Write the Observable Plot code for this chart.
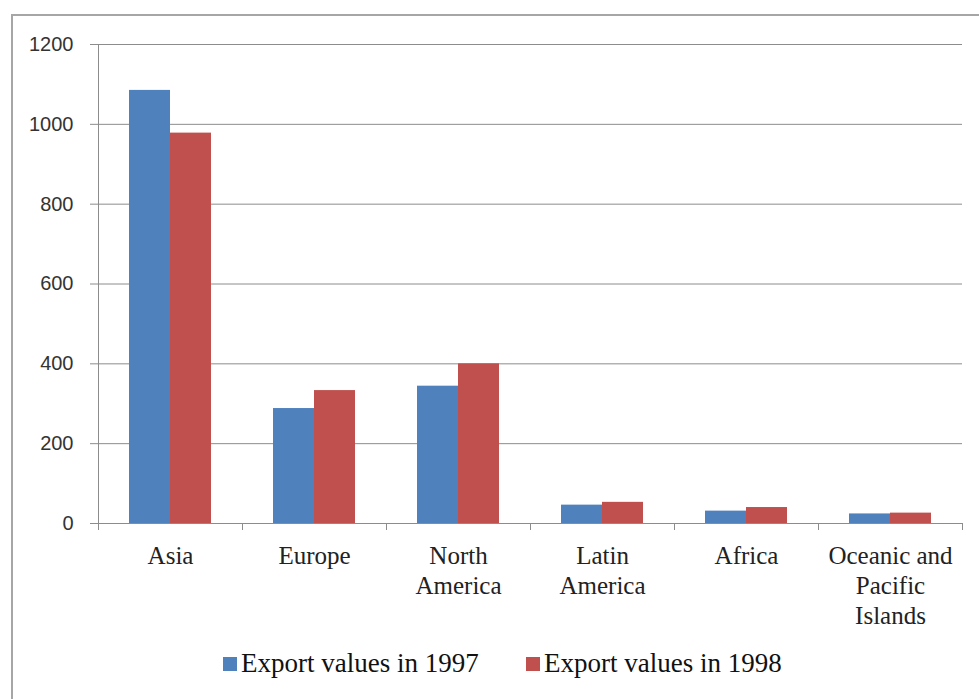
<!DOCTYPE html>
<html><head><meta charset="utf-8">
<script src="https://cdn.jsdelivr.net/npm/d3@7"></script>
<script src="https://cdn.jsdelivr.net/npm/@observablehq/plot@0.6"></script>
<style>
body{margin:0;background:#fff;}
#wrap{position:relative;width:979px;height:699px;overflow:hidden;background:#fff;}
#border{position:absolute;left:11px;top:14px;width:990px;height:700px;border-left:2px solid #a6a6a6;border-top:2px solid #a6a6a6;}
#chart{position:absolute;left:0;top:0;}
.leg{position:absolute;top:648px;display:flex;align-items:center;font-family:"Liberation Serif";font-size:27px;color:#111;white-space:nowrap;}
.sw{display:inline-block;width:14px;height:14px;margin-right:4px;}
</style></head><body>
<div id="wrap"><div id="border"></div><div id="chart"></div></div>
<script>
const regions = ["Asia","Europe","North America","Latin America","Africa","Oceanic and Pacific Islands"];
const regionLabels = ["Asia","Europe","North\nAmerica","Latin\nAmerica","Africa","Oceanic and\nPacific\nIslands"];
const years = ["1997","1998"];
const exports1997 = [1085, 288, 344, 46, 31, 24];
const exports1998 = [978, 333, 400, 53, 40, 26];
const seriesLabels = ["Export values in 1997","Export values in 1998"];
const colors = ["#4F81BD","#C0504D"];
const yTicks = [0,200,400,600,800,1000,1200];

const table = regions.flatMap((r,i)=>[
  {region:r, year:years[0], value:exports1997[i]},
  {region:r, year:years[1], value:exports1998[i]}
]);

const chart = Plot.plot({
  width:979, height:645, marginLeft:98, marginRight:17, marginTop:44, marginBottom:122,
  fx:{domain:regions, padding:0, axis:null, label:null},
  x:{domain:years, paddingInner:0, paddingOuter:0.754, axis:null},
  y:{domain:[0,1200], axis:null},
  color:{domain:years, range:colors},
  marks:[
    Plot.gridY(yTicks.filter(d=>d>0), {stroke:"#8c8c8c", strokeOpacity:1}),
    Plot.barY(table, {fx:"region", x:"year", y:"value", fill:"year"}),
    Plot.ruleY([0], {stroke:"#8c8c8c"}),
    Plot.frame({anchor:"left", facetAnchor:"left", stroke:"#8c8c8c", insetBottom:-5}),
    Plot.frame({anchor:"left", stroke:"#8c8c8c", insetTop:479, insetBottom:-6}),
    Plot.frame({anchor:"right", facetAnchor:"right", stroke:"#8c8c8c", insetTop:479, insetBottom:-6}),
    Plot.axisY({ticks:yTicks, tickSize:8, tickPadding:17, color:"#333", stroke:"#8c8c8c", fontSize:20, fontFamily:"Liberation Sans", label:null, tickFormat:d=>String(d)}),
    Plot.axisFx({anchor:"bottom", tickSize:0, tickPadding:19, fontSize:25, fontFamily:"Liberation Serif", lineHeight:1.2, label:null, color:"#222", tickFormat:d=>regionLabels[regions.indexOf(d)]})
  ]
});
document.getElementById("chart").appendChild(chart);

const wrap = document.getElementById("wrap");
const legLeft = [223, 526];
seriesLabels.forEach((s,i)=>{
  const div = document.createElement("div");
  div.className = "leg";
  div.style.left = legLeft[i] + "px";
  const sw = document.createElement("span");
  sw.className = "sw";
  sw.style.background = colors[i];
  div.appendChild(sw);
  div.appendChild(document.createTextNode(s));
  wrap.appendChild(div);
});
</script>
</body></html>
